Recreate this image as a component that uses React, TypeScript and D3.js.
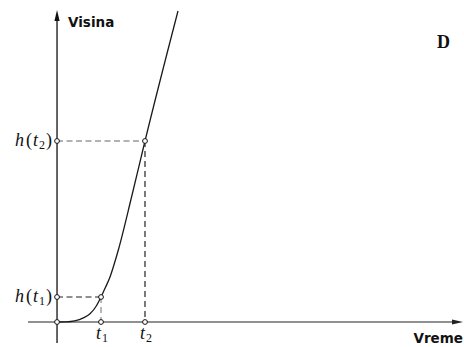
import React from "react";
import * as d3 from "d3";

// Height-versus-time curve (arbitrary units)
const times = [0, 0.2, 0.4, 0.6, 0.75, 0.9, 1, 1.1, 1.2, 1.3, 1.4, 1.7, 2, 2.75];
const heights = [0, 0.02, 0.12, 0.42, 0.82, 1.65, 2.5, 3.45, 4.45, 5.8, 7.3, 12.6, 18.1, 31.1];

// Marked instants on the time axis
const markedTimes = [1, 2];
const markedSubs = ["1", "2"];

const axisLabels = { x: "Vreme", y: "Visina" };
const panelLetter = "D";

const W = 464;
const H = 347;

export default function App() {
  const x = d3.scaleLinear().domain([-0.66, 9.23]).range([28, 463]);
  const y = d3.scaleLinear().domain([-2.1, 31.2]).range([343, 10]);

  const pts: [number, number][] = times.map((t, i) => [t, heights[i]]);
  const line = d3
    .line<[number, number]>()
    .x((d) => x(d[0]))
    .y((d) => y(d[1]))
    .curve(d3.curveMonotoneX);

  const x0 = x(0);
  const y0 = y(0);
  const yTop = y(31.2);
  const xEnd = x(9.23);

  const marks = markedTimes.map((t, i) => {
    const idx = times.indexOf(t);
    return { t, h: heights[idx], sub: markedSubs[i] };
  });

  const mathFont = "'Liberation Serif', 'DejaVu Serif', serif";
  const sansBold = "'DejaVu Sans', Verdana, sans-serif";

  return (
    <svg
      width={W}
      height={H}
      style={{ position: "absolute", left: 0, top: 0, background: "#fff" }}
    >
      {/* axes */}
      <line x1={x0} y1={y(-2.1)} x2={x0} y2={yTop + 8} stroke="#111" strokeWidth={1.3} />
      <path
        d={`M${x0},${yTop} L${x0 - 2.6},${yTop + 11} L${x0 + 2.6},${yTop + 11} Z`}
        fill="#111"
      />
      <line x1={x(-0.66)} y1={y0} x2={xEnd - 8} y2={y0} stroke="#222" strokeWidth={1.2} />
      <path
        d={`M${xEnd},${y0} L${xEnd - 11},${y0 - 2.6} L${xEnd - 11},${y0 + 2.6} Z`}
        fill="#222"
      />

      {/* dashed guides */}
      {marks.map((m, i) => (
        <g key={i}>
          <line
            x1={x0}
            y1={y(m.h)}
            x2={x(m.t)}
            y2={y(m.h)}
            stroke={i === 0 ? "#222" : "#666"}
            strokeWidth={1.1}
            strokeDasharray="6,3.5"
          />
          <line
            x1={x(m.t)}
            y1={y(m.h)}
            x2={x(m.t)}
            y2={y0}
            stroke={i === 0 ? "#888" : "#222"}
            strokeWidth={1.2}
            strokeDasharray="6,4"
          />
        </g>
      ))}

      {/* curve */}
      <path d={line(pts) || ""} fill="none" stroke="#1a1a1a" strokeWidth={1.3} />

      {/* open markers */}
      {[
        [0, 0],
        ...marks.map((m) => [m.t, 0]),
        ...marks.map((m) => [0, m.h]),
        ...marks.map((m) => [m.t, m.h]),
      ].map(([t, h], i) => (
        <circle key={i} cx={x(t)} cy={y(h)} r={2.4} fill="#fff" stroke="#111" strokeWidth={1} />
      ))}

      {/* height labels */}
      {marks.map((m, i) => (
        <text
          key={`h${i}`}
          x={x0 - 5}
          y={y(m.h) + 5}
          textAnchor="end"
          fontFamily={mathFont}
          fontSize={18}
          fill="#111"
        >
          <tspan fontStyle="italic">h</tspan>
          <tspan dx={2}>(</tspan>
          <tspan fontStyle="italic" dx={1}>t</tspan>
          <tspan fontSize={12} dy={3} dx={1}>
            {m.sub}
          </tspan>
          <tspan dy={-3} dx={1}>)</tspan>
        </text>
      ))}

      {/* time labels */}
      {marks.map((m, i) => (
        <text
          key={`t${i}`}
          x={x(m.t) + 1}
          y={339}
          textAnchor="middle"
          fontFamily={mathFont}
          fontSize={18}
          fill="#111"
        >
          <tspan fontStyle="italic">t</tspan>
          <tspan fontSize={12} dy={3} dx={1}>
            {m.sub}
          </tspan>
        </text>
      ))}

      {/* axis titles */}
      <text x={x0 + 11} y={27} fontFamily={sansBold} fontWeight="bold" fontSize={13.5} fill="#111">
        {axisLabels.y}
      </text>
      <text x={463} y={343} textAnchor="end" fontFamily={sansBold} fontWeight="bold" fontSize={13.5} fill="#111">
        {axisLabels.x}
      </text>

      {/* panel letter */}
      <text x={437} y={48} fontFamily={mathFont} fontSize={18} fontWeight="bold" fill="#111">
        {panelLetter}
      </text>
    </svg>
  );
}
